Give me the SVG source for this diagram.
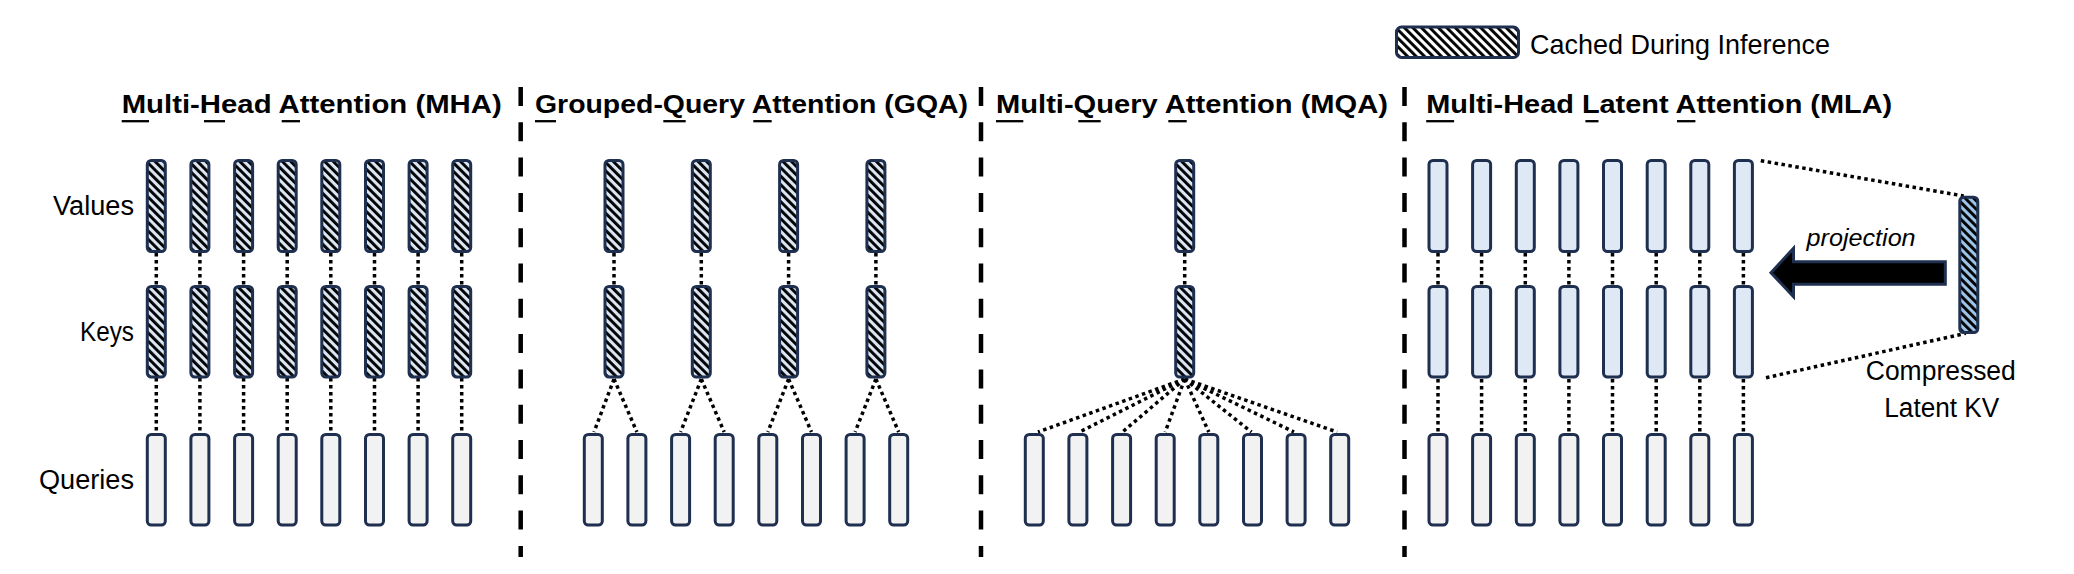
<svg xmlns="http://www.w3.org/2000/svg" width="2074" height="574" viewBox="0 0 2074 574">
<style>
text{font-family:"Liberation Sans",Arial,sans-serif;fill:#000}
.title{font-size:26.5px;font-weight:bold}
.lbl{font-size:27px}
.b{stroke:#1f2f4f;stroke-width:3}
.hv{fill:url(#hatch)}
.q{fill:#f2f2f2}
.lv{fill:#dfe9f5}
.kv{fill:url(#hatchKV)}
.dot{stroke:#000;stroke-width:3.5;stroke-dasharray:3.5 3.5;fill:none}
.div{stroke:#000;stroke-width:4.5;stroke-dasharray:19 16.3}
.ul{stroke:#000;stroke-width:2.3}
</style>
<defs>
<pattern id="hatch" patternUnits="userSpaceOnUse" width="6" height="6" patternTransform="rotate(-45)">
<rect width="6" height="6" fill="#dbe6f4"/><rect width="2.9" height="6" fill="#000"/>
</pattern>
<pattern id="hatchW" patternUnits="userSpaceOnUse" width="6" height="6" patternTransform="rotate(-45)">
<rect width="6" height="6" fill="#fff"/><rect width="2.9" height="6" fill="#000"/>
</pattern>
<pattern id="hatchKV" patternUnits="userSpaceOnUse" width="6" height="6" patternTransform="rotate(-45)">
<rect width="6" height="6" fill="#9dc3e6"/><rect width="2.9" height="6" fill="#000"/>
</pattern>
</defs>
<rect width="2074" height="574" fill="#fff"/>

<g id="legend">
<rect x="1396.5" y="27" width="122" height="30.5" rx="5" fill="url(#hatchW)" class="b"/>
<text x="1530" y="53.5" font-size="28" textLength="300" lengthAdjust="spacingAndGlyphs">Cached During Inference</text>
</g>

<g id="dividers">
<line x1="520.7" y1="87" x2="520.7" y2="557" class="div"/>
<line x1="981" y1="87" x2="981" y2="557" class="div"/>
<line x1="1404.5" y1="87" x2="1404.5" y2="557" class="div"/>
</g>

<g id="titles">
<text x="121.7" y="113" class="title" textLength="380" lengthAdjust="spacingAndGlyphs">Multi-Head Attention (MHA)</text>
<text x="535" y="113" class="title" textLength="433" lengthAdjust="spacingAndGlyphs">Grouped-Query Attention (GQA)</text>
<text x="996" y="113" class="title" textLength="392" lengthAdjust="spacingAndGlyphs">Multi-Query Attention (MQA)</text>
<text x="1426.2" y="113" class="title" textLength="466" lengthAdjust="spacingAndGlyphs">Multi-Head Latent Attention (MLA)</text>
<line x1="121.7" y1="121.2" x2="149" y2="121.2" class="ul"/>
<line x1="204" y1="121.2" x2="225" y2="121.2" class="ul"/>
<line x1="281.7" y1="121.2" x2="300" y2="121.2" class="ul"/>
<line x1="535" y1="121.2" x2="556" y2="121.2" class="ul"/>
<line x1="663.3" y1="121.2" x2="685.7" y2="121.2" class="ul"/>
<line x1="753.3" y1="121.2" x2="771.7" y2="121.2" class="ul"/>
<line x1="996" y1="121.2" x2="1023.3" y2="121.2" class="ul"/>
<line x1="1078.3" y1="121.2" x2="1100.7" y2="121.2" class="ul"/>
<line x1="1168.3" y1="121.2" x2="1186.7" y2="121.2" class="ul"/>
<line x1="1426.2" y1="121.2" x2="1454.1" y2="121.2" class="ul"/>
<line x1="1585.4" y1="121.2" x2="1598.5" y2="121.2" class="ul"/>
<line x1="1677" y1="121.2" x2="1695.4" y2="121.2" class="ul"/>
</g>

<g id="row-labels">
<text x="134" y="215" class="lbl" text-anchor="end" textLength="81" lengthAdjust="spacingAndGlyphs">Values</text>
<text x="134" y="341" class="lbl" text-anchor="end" textLength="54" lengthAdjust="spacingAndGlyphs">Keys</text>
<text x="134" y="489" class="lbl" text-anchor="end" textLength="95" lengthAdjust="spacingAndGlyphs">Queries</text>
</g>

<g id="connectors">
<path class="dot" d="M156.3 253V285M199.9 253V285M243.6 253V285M287.2 253V285M330.8 253V285M374.5 253V285M418.1 253V285M461.7 253V285"/>
<path class="dot" d="M156.3 378V433M199.9 378V433M243.6 378V433M287.2 378V433M330.8 378V433M374.5 378V433M418.1 378V433M461.7 378V433"/>
<path class="dot" d="M614 253V285M701.3 253V285M788.6 253V285M875.9 253V285"/>
<path class="dot" d="M614 379L594 432M614 379L636.9 432M701.3 379L680.6 432M701.3 379L724.2 432M788.6 379L767.8 432M788.6 379L811.5 432M875.9 379L855.1 432M875.9 379L898.7 432"/>
<path class="dot" d="M1184.7 253V285"/>
<path class="dot" d="M1184.7 379L1038 432M1184.7 379L1079.5 432M1184.7 379L1122.5 432M1184.7 379L1165.2 432M1184.7 379L1208.8 432M1184.7 379L1251.5 432M1184.7 379L1294 432M1184.7 379L1337 432"/>
<path class="dot" d="M1438 253V285M1481.6 253V285M1525.3 253V285M1568.9 253V285M1612.5 253V285M1656.2 253V285M1699.8 253V285M1743.4 253V285"/>
<path class="dot" d="M1438 379V433M1481.6 379V433M1525.3 379V433M1568.9 379V433M1612.5 379V433M1656.2 379V433M1699.8 379V433M1743.4 379V433"/>
<path class="dot" d="M1760.8 160.7L1963.7 196"/>
<path class="dot" d="M1766 377.7L1965.8 333.3"/>
</g>

<g id="mha-v1"><rect x="147.3" y="160.5" width="18" height="91" rx="4" class="b hv"/></g>
<g id="mha-v2"><rect x="190.9" y="160.5" width="18" height="91" rx="4" class="b hv"/></g>
<g id="mha-v3"><rect x="234.6" y="160.5" width="18" height="91" rx="4" class="b hv"/></g>
<g id="mha-v4"><rect x="278.2" y="160.5" width="18" height="91" rx="4" class="b hv"/></g>
<g id="mha-v5"><rect x="321.8" y="160.5" width="18" height="91" rx="4" class="b hv"/></g>
<g id="mha-v6"><rect x="365.5" y="160.5" width="18" height="91" rx="4" class="b hv"/></g>
<g id="mha-v7"><rect x="409.1" y="160.5" width="18" height="91" rx="4" class="b hv"/></g>
<g id="mha-v8"><rect x="452.7" y="160.5" width="18" height="91" rx="4" class="b hv"/></g>
<g id="mha-k1"><rect x="147.3" y="286.5" width="18" height="90.5" rx="4" class="b hv"/></g>
<g id="mha-k2"><rect x="190.9" y="286.5" width="18" height="90.5" rx="4" class="b hv"/></g>
<g id="mha-k3"><rect x="234.6" y="286.5" width="18" height="90.5" rx="4" class="b hv"/></g>
<g id="mha-k4"><rect x="278.2" y="286.5" width="18" height="90.5" rx="4" class="b hv"/></g>
<g id="mha-k5"><rect x="321.8" y="286.5" width="18" height="90.5" rx="4" class="b hv"/></g>
<g id="mha-k6"><rect x="365.5" y="286.5" width="18" height="90.5" rx="4" class="b hv"/></g>
<g id="mha-k7"><rect x="409.1" y="286.5" width="18" height="90.5" rx="4" class="b hv"/></g>
<g id="mha-k8"><rect x="452.7" y="286.5" width="18" height="90.5" rx="4" class="b hv"/></g>
<g id="mha-q1"><rect x="147.3" y="434.5" width="18" height="90.5" rx="4" class="b q"/></g>
<g id="mha-q2"><rect x="190.9" y="434.5" width="18" height="90.5" rx="4" class="b q"/></g>
<g id="mha-q3"><rect x="234.6" y="434.5" width="18" height="90.5" rx="4" class="b q"/></g>
<g id="mha-q4"><rect x="278.2" y="434.5" width="18" height="90.5" rx="4" class="b q"/></g>
<g id="mha-q5"><rect x="321.8" y="434.5" width="18" height="90.5" rx="4" class="b q"/></g>
<g id="mha-q6"><rect x="365.5" y="434.5" width="18" height="90.5" rx="4" class="b q"/></g>
<g id="mha-q7"><rect x="409.1" y="434.5" width="18" height="90.5" rx="4" class="b q"/></g>
<g id="mha-q8"><rect x="452.7" y="434.5" width="18" height="90.5" rx="4" class="b q"/></g>

<g id="gqa-v1"><rect x="605" y="160.5" width="18" height="91" rx="4" class="b hv"/></g>
<g id="gqa-v2"><rect x="692.3" y="160.5" width="18" height="91" rx="4" class="b hv"/></g>
<g id="gqa-v3"><rect x="779.6" y="160.5" width="18" height="91" rx="4" class="b hv"/></g>
<g id="gqa-v4"><rect x="866.9" y="160.5" width="18" height="91" rx="4" class="b hv"/></g>
<g id="gqa-k1"><rect x="605" y="286.5" width="18" height="90.5" rx="4" class="b hv"/></g>
<g id="gqa-k2"><rect x="692.3" y="286.5" width="18" height="90.5" rx="4" class="b hv"/></g>
<g id="gqa-k3"><rect x="779.6" y="286.5" width="18" height="90.5" rx="4" class="b hv"/></g>
<g id="gqa-k4"><rect x="866.9" y="286.5" width="18" height="90.5" rx="4" class="b hv"/></g>
<g id="gqa-q1"><rect x="584.3" y="434.5" width="18" height="90.5" rx="4" class="b q"/></g>
<g id="gqa-q2"><rect x="627.9" y="434.5" width="18" height="90.5" rx="4" class="b q"/></g>
<g id="gqa-q3"><rect x="671.6" y="434.5" width="18" height="90.5" rx="4" class="b q"/></g>
<g id="gqa-q4"><rect x="715.2" y="434.5" width="18" height="90.5" rx="4" class="b q"/></g>
<g id="gqa-q5"><rect x="758.8" y="434.5" width="18" height="90.5" rx="4" class="b q"/></g>
<g id="gqa-q6"><rect x="802.5" y="434.5" width="18" height="90.5" rx="4" class="b q"/></g>
<g id="gqa-q7"><rect x="846.1" y="434.5" width="18" height="90.5" rx="4" class="b q"/></g>
<g id="gqa-q8"><rect x="889.7" y="434.5" width="18" height="90.5" rx="4" class="b q"/></g>

<g id="mqa-v"><rect x="1175.7" y="160.5" width="18" height="91" rx="4" class="b hv"/></g>
<g id="mqa-k"><rect x="1175.7" y="286.5" width="18" height="90.5" rx="4" class="b hv"/></g>
<g id="mqa-q1"><rect x="1025.3" y="434.5" width="18" height="90.5" rx="4" class="b q"/></g>
<g id="mqa-q2"><rect x="1068.9" y="434.5" width="18" height="90.5" rx="4" class="b q"/></g>
<g id="mqa-q3"><rect x="1112.6" y="434.5" width="18" height="90.5" rx="4" class="b q"/></g>
<g id="mqa-q4"><rect x="1156.2" y="434.5" width="18" height="90.5" rx="4" class="b q"/></g>
<g id="mqa-q5"><rect x="1199.8" y="434.5" width="18" height="90.5" rx="4" class="b q"/></g>
<g id="mqa-q6"><rect x="1243.5" y="434.5" width="18" height="90.5" rx="4" class="b q"/></g>
<g id="mqa-q7"><rect x="1287.1" y="434.5" width="18" height="90.5" rx="4" class="b q"/></g>
<g id="mqa-q8"><rect x="1330.7" y="434.5" width="18" height="90.5" rx="4" class="b q"/></g>

<g id="mla-v1"><rect x="1429" y="160.5" width="18" height="91" rx="4" class="b lv"/></g>
<g id="mla-v2"><rect x="1472.6" y="160.5" width="18" height="91" rx="4" class="b lv"/></g>
<g id="mla-v3"><rect x="1516.3" y="160.5" width="18" height="91" rx="4" class="b lv"/></g>
<g id="mla-v4"><rect x="1559.9" y="160.5" width="18" height="91" rx="4" class="b lv"/></g>
<g id="mla-v5"><rect x="1603.5" y="160.5" width="18" height="91" rx="4" class="b lv"/></g>
<g id="mla-v6"><rect x="1647.2" y="160.5" width="18" height="91" rx="4" class="b lv"/></g>
<g id="mla-v7"><rect x="1690.8" y="160.5" width="18" height="91" rx="4" class="b lv"/></g>
<g id="mla-v8"><rect x="1734.4" y="160.5" width="18" height="91" rx="4" class="b lv"/></g>
<g id="mla-k1"><rect x="1429" y="286.5" width="18" height="90.5" rx="4" class="b lv"/></g>
<g id="mla-k2"><rect x="1472.6" y="286.5" width="18" height="90.5" rx="4" class="b lv"/></g>
<g id="mla-k3"><rect x="1516.3" y="286.5" width="18" height="90.5" rx="4" class="b lv"/></g>
<g id="mla-k4"><rect x="1559.9" y="286.5" width="18" height="90.5" rx="4" class="b lv"/></g>
<g id="mla-k5"><rect x="1603.5" y="286.5" width="18" height="90.5" rx="4" class="b lv"/></g>
<g id="mla-k6"><rect x="1647.2" y="286.5" width="18" height="90.5" rx="4" class="b lv"/></g>
<g id="mla-k7"><rect x="1690.8" y="286.5" width="18" height="90.5" rx="4" class="b lv"/></g>
<g id="mla-k8"><rect x="1734.4" y="286.5" width="18" height="90.5" rx="4" class="b lv"/></g>
<g id="mla-q1"><rect x="1429" y="434.5" width="18" height="90.5" rx="4" class="b q"/></g>
<g id="mla-q2"><rect x="1472.6" y="434.5" width="18" height="90.5" rx="4" class="b q"/></g>
<g id="mla-q3"><rect x="1516.3" y="434.5" width="18" height="90.5" rx="4" class="b q"/></g>
<g id="mla-q4"><rect x="1559.9" y="434.5" width="18" height="90.5" rx="4" class="b q"/></g>
<g id="mla-q5"><rect x="1603.5" y="434.5" width="18" height="90.5" rx="4" class="b q"/></g>
<g id="mla-q6"><rect x="1647.2" y="434.5" width="18" height="90.5" rx="4" class="b q"/></g>
<g id="mla-q7"><rect x="1690.8" y="434.5" width="18" height="90.5" rx="4" class="b q"/></g>
<g id="mla-q8"><rect x="1734.4" y="434.5" width="18" height="90.5" rx="4" class="b q"/></g>

<g id="projection-arrow">
<polygon points="1771,272.7 1793.5,248.3 1793.5,261.7 1945.3,261.7 1945.3,284.3 1793.5,284.3 1793.5,296.7" fill="#000" stroke="#1f2f4f" stroke-width="3" stroke-linejoin="miter"/>
<text x="1806.6" y="245.7" font-size="24" font-style="italic" textLength="109" lengthAdjust="spacingAndGlyphs">projection</text>
</g>

<g id="latent-kv">
<rect x="1959.8" y="197.2" width="18" height="135.3" rx="4" class="b kv"/>
<text x="1940.8" y="380" class="lbl" text-anchor="middle" textLength="150" lengthAdjust="spacingAndGlyphs">Compressed</text>
<text x="1941.8" y="416.7" class="lbl" text-anchor="middle" textLength="115" lengthAdjust="spacingAndGlyphs">Latent KV</text>
</g>
</svg>
